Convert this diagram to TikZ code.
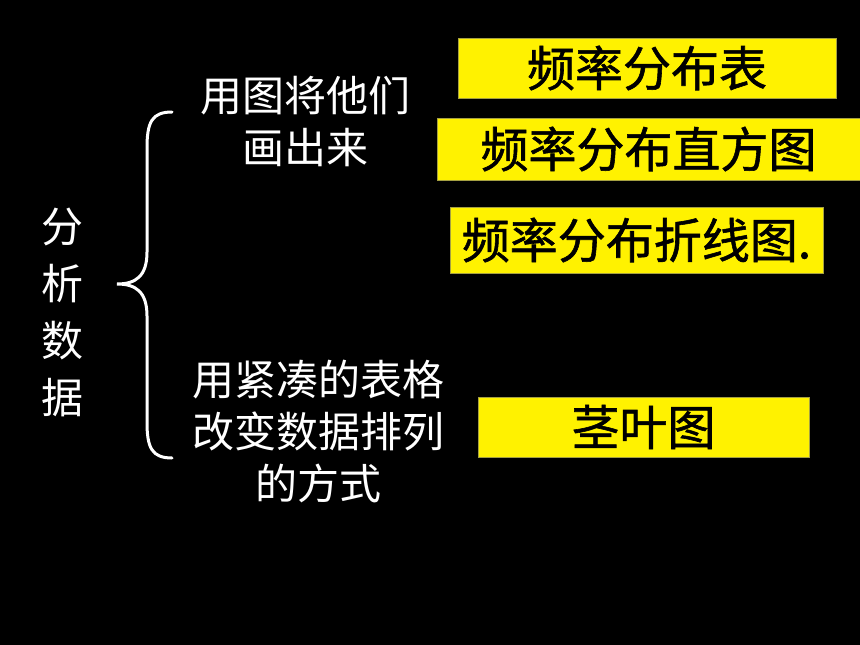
\documentclass[tikz,border=0pt]{standalone}
\usepackage{fontspec}
\newfontfamily\cjk{Noto Sans CJK SC}
\newfontfamily\cjkbox[BoldFont=Noto Sans CJK SC, BoldFeatures={FakeBold=1.2}]{Noto Sans CJK SC}
\usepackage{xcolor}
\usepackage{tikz}
\usetikzlibrary{positioning}

\tikzset{
  ybox/.style={fill=yellow, draw=yellow!60!black, line width=0.6pt, inner sep=0pt,
    font={\cjkbox\bfseries\fontsize{48pt}{52pt}\selectfont}, text=black},
  wtext/.style={text=white, align=center, inner sep=0pt,
    font={\cjk\fontsize{42pt}{52pt}\selectfont}}
}

\begin{document}
\begin{tikzpicture}[x=1pt,y=-1pt]
\useasboundingbox (0,0) rectangle (860,645);
\fill[black] (0,0) rectangle (860,645);

% left title
\node[wtext, font={\cjk\fontsize{42pt}{57pt}\selectfont}] (title) at (62,312) {分\\析\\数\\据};

% brace
\draw[white, line width=3pt, line cap=round]
  (172,112) .. controls (152,112) and (147,122) .. (147,148) -- (147,252)
  .. controls (147,276) and (136,284) .. (117,284)
  .. controls (136,284) and (147,292) .. (147,316) -- (147,422)
  .. controls (147,448) and (152,458) .. (172,458);

% branches
\node[wtext] (draw) at (305,122) {用图将他们\\画出来};
\node[wtext] (stem) at (318,431) {用紧凑的表格\\改变数据排列\\的方式};

% yellow boxes
\node[ybox, minimum width=378pt, minimum height=60pt] (tbl) at (647,68) {频率分布表};
\node[ybox, minimum width=423pt, minimum height=62pt] (hist) at (648.5,149) {频率分布直方图};
\node[ybox, minimum width=373pt, minimum height=66pt] (poly) at (636.5,240) {频率分布折线图.};
\node[ybox, minimum width=331pt, minimum height=60pt] (leaf) at (643.5,427) {茎叶图};
\end{tikzpicture}
\end{document}
